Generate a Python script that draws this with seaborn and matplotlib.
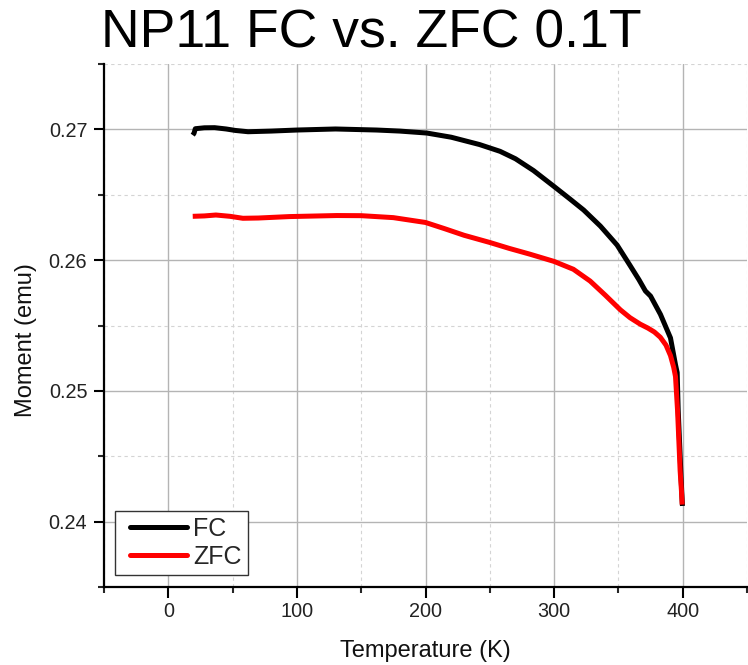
import numpy as np
import pandas as pd
import matplotlib
matplotlib.use("Agg")
import matplotlib.pyplot as plt
from matplotlib.ticker import MultipleLocator
from matplotlib.legend_handler import HandlerLine2D
import seaborn as sns

# ---- data ----
fc_T = [19, 20, 21, 28, 36, 45, 52, 62, 80, 100, 130, 162, 180, 201, 220, 242,
        258, 270, 284, 300, 312, 323, 336, 349, 359, 366, 371, 375, 382.7,
        390.5, 394.4, 395.7, 396.5, 397.5, 398.5, 399.2, 399.8]
fc_M = [0.26956, 0.2697, 0.27005, 0.27012, 0.27013, 0.27003, 0.26992, 0.26982,
        0.26987, 0.26995, 0.27003, 0.26995, 0.26987, 0.26972, 0.2694, 0.26884,
        0.26832, 0.26775, 0.26685, 0.26563, 0.2647, 0.26383, 0.2626, 0.26115,
        0.2596, 0.2585, 0.25764, 0.25725, 0.25585, 0.25405, 0.2520, 0.2514,
        0.2485, 0.2462, 0.2439, 0.2424, 0.2412]

zfc_T = [19, 28, 37, 48, 58, 70, 94, 131, 150, 175, 200, 215, 230, 250, 265,
         281, 300, 315, 328, 340, 351.5, 359, 367, 373, 378, 382.6, 387,
         390.5, 393, 394.4, 396, 397, 398, 399, 399.6]
zfc_M = [0.26335, 0.26338, 0.26345, 0.26335, 0.2632, 0.26322, 0.26333, 0.26341,
         0.2634, 0.26325, 0.26288, 0.2624, 0.2619, 0.26135, 0.2609, 0.26046,
         0.2599, 0.2593, 0.2584, 0.2573, 0.2562, 0.2556, 0.2551, 0.2548,
         0.2545, 0.2541, 0.2535, 0.2527, 0.2518, 0.2511, 0.2485, 0.2462,
         0.2439, 0.2424, 0.2413]

series_names = ["FC", "ZFC"]
series_colors = ["#000000", "#ff0000"]

title = "NP11 FC vs. ZFC 0.1T"
xlabel = "Temperature (K)"
ylabel = "Moment (emu)"

df = pd.concat([
    pd.DataFrame({"T": fc_T, "M": fc_M, "curve": "FC"}),
    pd.DataFrame({"T": zfc_T, "M": zfc_M, "curve": "ZFC"}),
], ignore_index=True)

sns.set_theme(style="ticks")
plt.rcParams["font.family"] = ["Liberation Sans", "DejaVu Sans"]

fig = plt.figure(figsize=(7.48, 6.65), dpi=100)
ax = fig.add_axes([104 / 748, 1 - 587 / 665, 643 / 748, 523 / 665])

sns.lineplot(data=df, x="T", y="M", hue="curve", hue_order=series_names,
             palette=dict(zip(series_names, series_colors)), sort=False,
             estimator=None, linewidth=3.6, ax=ax, legend=False, zorder=3)
for ln in ax.get_lines():
    ln.set_solid_joinstyle("round")
    ln.set_solid_capstyle("butt")

ax.set_xlim(-50, 450)
ax.set_ylim(0.235, 0.275)
ax.xaxis.set_major_locator(MultipleLocator(100))
ax.xaxis.set_minor_locator(MultipleLocator(50))
ax.yaxis.set_minor_locator(MultipleLocator(0.005))
ax.set_yticks([0.24, 0.25, 0.26, 0.27])
ax.set_yticklabels(["0.24", "0.25", "0.26", "0.27"])

ax.grid(which="major", color="#b4b4b4", linewidth=1.0, linestyle="-", zorder=0)
ax.grid(which="minor", color="#d4d4d4", linewidth=0.8, linestyle=(0, (3, 3)), zorder=0)
ax.set_axisbelow(True)

for s in ["top", "right"]:
    ax.spines[s].set_visible(False)
for s in ["left", "bottom"]:
    ax.spines[s].set_linewidth(1.6)
    ax.spines[s].set_color("black")

ax.tick_params(axis="x", which="major", length=8, width=1.5, pad=3,
               labelsize=14.3, colors="black")
ax.tick_params(axis="x", which="minor", length=4.5, width=1.5)
ax.tick_params(axis="y", which="major", length=7, width=1.5, pad=5,
               labelsize=14.3, colors="black")
ax.tick_params(axis="y", which="minor", length=4.5, width=1.5)
for lab in ax.get_xticklabels() + ax.get_yticklabels():
    lab.set_color("#222222")

ax.set_xlabel(xlabel, fontsize=17, va="baseline", color="#111111")
ax.xaxis.set_label_coords(0.5, (587 - 657) / 523)
ax.set_ylabel(ylabel, fontsize=17, va="center", color="#111111")
ax.yaxis.set_label_coords(-0.122, (587 - 340) / 523)

fig.text(0.497, 1 - 47 / 665, title, fontsize=38.5, ha="center", va="baseline",
         color="black")

handles = [plt.Line2D([], [], color=c, linewidth=3.6) for c in series_colors]
leg = ax.legend(handles, series_names, loc="lower left",
                bbox_to_anchor=(11 / 643, 12 / 523), borderaxespad=0,
                fontsize=18, frameon=True, fancybox=False, framealpha=1,
                edgecolor="#333333", handlelength=2.63, handletextpad=0.24,
                labelspacing=0.15, borderpad=0.25, numpoints=1,
                handler_map={plt.Line2D: HandlerLine2D(xpad=0.35)})
leg.get_frame().set_linewidth(1.0)

fig.savefig("out.png", dpi=100)
